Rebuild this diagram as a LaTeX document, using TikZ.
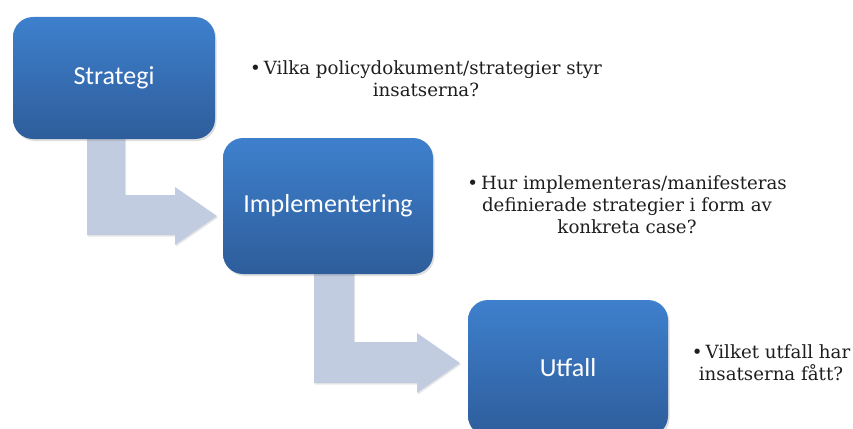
\documentclass[tikz,border=0pt]{standalone}
\usepackage{fontspec}
\setmainfont{DejaVu Serif}
\newfontfamily\boxfont{Carlito}
\usetikzlibrary{shadows}
\definecolor{cTop}{HTML}{3E80CD}
\definecolor{cBot}{HTML}{2E5D9B}
\definecolor{cArr}{HTML}{C2CCE0}
\definecolor{cInk}{HTML}{1E1E1E}
\tikzset{
  stage/.style={rounded corners=20pt, top color=cTop, bottom color=cBot, draw=none,
     font=\boxfont\fontsize{26}{30}\selectfont, text=white,
     drop shadow={opacity=0.25, shadow xshift=1.5pt, shadow yshift=-2pt}},
  barrow/.style={fill=cArr, draw=none,
     drop shadow={opacity=0.2, shadow xshift=1pt, shadow yshift=-1.5pt}},
  note/.style={align=center, font=\fontsize{18.2}{22}\selectfont, text=cInk, inner sep=0pt},
}
\begin{document}
\begin{tikzpicture}[x=1pt, y=-1pt]
\useasboundingbox (0,0) rectangle (853,428);
% bent block arrows, drawn first so the boxes cover their tails
\path[barrow] (87,130) -- (125,130) -- (125,195) -- (175,195) -- (175,187)
   -- (217,216) -- (175,245) -- (175,235) -- (87,235) -- cycle;
\path[barrow] (314,265) -- (354,265) -- (354,342) -- (417,342) -- (417,333)
   -- (460,363) -- (417,393) -- (417,383) -- (314,383) -- cycle;
% stages
\node[stage, minimum width=202pt, minimum height=122pt] (strat) at (114,78) {Strategi};
\node[stage, minimum width=210pt, minimum height=136pt] (impl) at (328,206) {Implementering};
\node[stage, minimum width=200pt, minimum height=136pt] (utfall) at (568,368) {Utfall};
% questions
\node[note] (q1) at (426,79) {\textbullet\,Vilka policydokument/strategier styr\\insatserna?};
\node[note] (q2) at (627,205) {\textbullet\,Hur implementeras/manifesteras\\definierade strategier i form av\\konkreta case?};
\node[note] (q3) at (771,363) {\textbullet\,Vilket utfall har\\insatserna fått?};
\end{tikzpicture}
\end{document}
